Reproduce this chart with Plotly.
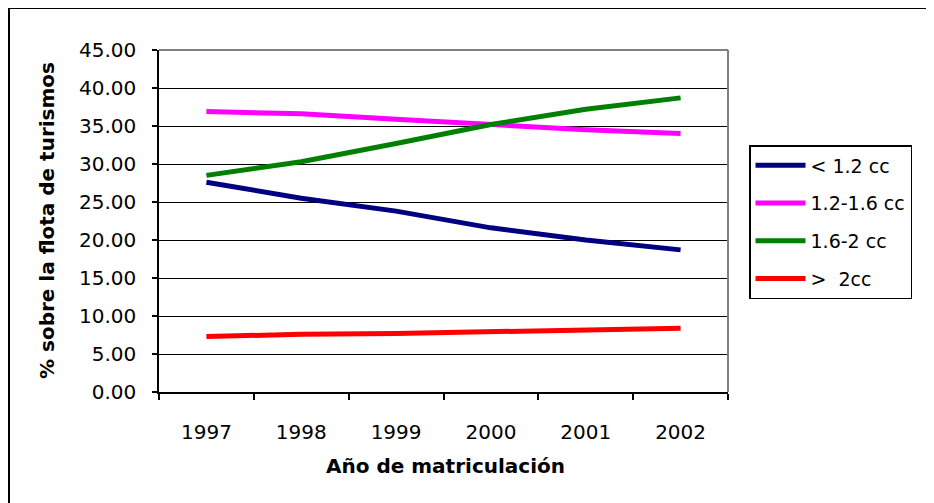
import plotly.graph_objects as go

years = ["1997", "1998", "1999", "2000", "2001", "2002"]
s_lt12 = [27.6, 25.5, 23.8, 21.6, 20.0, 18.7]
s_12_16 = [36.9, 36.6, 35.9, 35.2, 34.5, 34.0]
s_16_2 = [28.5, 30.3, 32.7, 35.2, 37.2, 38.7]
s_gt2 = [7.3, 7.6, 7.7, 7.9, 8.2, 8.4]

names = ["< 1.2 cc", "1.2-1.6 cc", "1.6-2 cc", ">  2cc"]
colors = ["#000080", "#FF00FF", "#008000", "#FF0000"]
series = [s_lt12, s_12_16, s_16_2, s_gt2]

y_ticks = [0, 5, 10, 15, 20, 25, 30, 35, 40, 45]

FONT = "DejaVu Sans, Verdana, sans-serif"

fig = go.Figure()
for nm, col, vals in zip(names, colors, series):
    fig.add_trace(go.Scatter(
        x=years, y=vals, mode="lines", name=nm, legendgroup=nm,
        line=dict(color=col, width=5),
    ))

# page body has an 8px margin; screen coords are shifted by it
OFF = 8
W, H = 934, 503
PL, PR, PT, PB = 159, 728, 50, 392  # plot area in screen pixels
L = PL - OFF
T = PT - OFF
R = W - (PR - OFF)
B = H - (PB - OFF)
pw, ph = PR - PL, PB - PT

def px_x(x):
    return (x - PL) / pw

def px_y(y):
    return (PB - y) / ph

fig.update_layout(
    width=W, height=H,
    margin=dict(l=L, r=R, t=T, b=B),
    paper_bgcolor="white", plot_bgcolor="white",
    font=dict(family=FONT, size=20, color="black"),
    showlegend=True,
    legend=dict(
        x=px_x(749), y=px_y(145), xanchor="left", yanchor="top",
        bordercolor="black", borderwidth=1.5, bgcolor="white",
        font=dict(family=FONT, size=19, color="black"),
        tracegroupgap=10, itemwidth=50,
        entrywidth=160, entrywidthmode="pixels",
    ),
    xaxis=dict(
        type="category", categoryorder="array", categoryarray=years,
        range=[-0.5, 5.5], tickson="boundaries",
        ticks="outside", ticklen=6, tickwidth=1.5, tickcolor="black",
        showline=True, linecolor="black", linewidth=1.5,
        showgrid=False, ticklabelstandoff=21,
        tickfont=dict(family=FONT, size=20),
    ),
    yaxis=dict(
        range=[0, 45], tickvals=y_ticks,
        ticktext=[f"{v:.2f}" for v in y_ticks],
        ticks="outside", ticklen=5, tickwidth=1.5, tickcolor="black",
        showline=True, linecolor="black", linewidth=1.5,
        showgrid=True, gridcolor="black", gridwidth=1,
        zeroline=False, ticklabelstandoff=12,
        tickfont=dict(family=FONT, size=20),
    ),
    shapes=[
        dict(type="line", xref="paper", yref="paper", x0=0, x1=1, y0=1, y1=1,
             line=dict(color="#808080", width=2)),
        dict(type="line", xref="paper", yref="paper", x0=1, x1=1, y0=0, y1=1,
             line=dict(color="#808080", width=2)),
        dict(type="rect", xref="paper", yref="paper",
             x0=px_x(9), x1=px_x(960), y0=px_y(8), y1=px_y(530),
             line=dict(color="black", width=2), fillcolor="rgba(0,0,0,0)"),
    ],
    annotations=[
        dict(text="<b>% sobre la flota de turismos</b>", xref="paper", yref="paper",
             x=px_x(47), y=px_y(221), textangle=-90, showarrow=False,
             xanchor="center", yanchor="middle",
             font=dict(family=FONT, size=20, color="black")),
        dict(text="<b>Año de matriculación</b>", xref="paper", yref="paper",
             x=px_x(445), y=px_y(466), showarrow=False,
             xanchor="center", yanchor="middle",
             font=dict(family=FONT, size=20, color="black")),
    ],
)

fig.write_html("out.html")
